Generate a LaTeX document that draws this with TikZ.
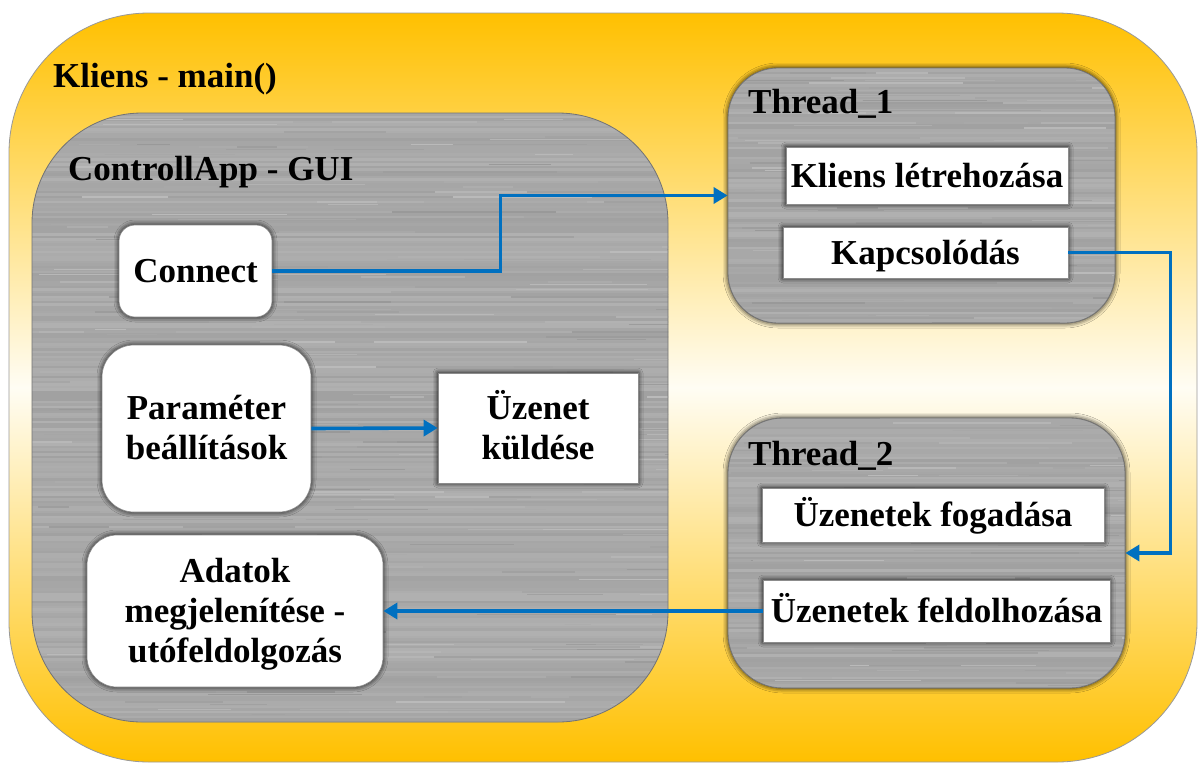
\documentclass[tikz,border=0pt]{standalone}
\usepackage{fontspec}
\setmainfont{Liberation Serif}
\usetikzlibrary{arrows.meta,shadows.blur}

\definecolor{amber}{RGB}{255,192,0}
\definecolor{cream}{RGB}{255,253,244}
\definecolor{steel}{RGB}{168,168,168}
\definecolor{flowblue}{RGB}{0,112,192}

% brushed-steel fill: full-width streaks plus short random scratches
% #1 = number of rows, #2 = width in pt, #3 = random seed
\newcommand\brushedmetal[3]{%
  \pgfmathsetseed{#3}%
  \fill[steel] (path picture bounding box.south west) rectangle (path picture bounding box.north east);
  \foreach \k in {0,...,#1}{%
    \pgfmathsetmacro\lvl{int(31+7*rnd)}%
    \draw[line width=2.6pt,black!\lvl]
      ([yshift=\k*2.5pt]path picture bounding box.south west) -- ++(#2pt,0pt);
  }%
  \foreach \k in {1,...,#1}{%
    \pgfmathsetmacro\lvl{int(27+14*rnd)}%
    \pgfmathsetmacro\sy{2.5*random(0,#1)}%
    \pgfmathsetmacro\sx{#2*rnd}%
    \pgfmathsetmacro\sl{30+160*rnd}%
    \draw[line width=1.2pt,black!\lvl]
      ([shift={(\sx pt,\sy pt)}]path picture bounding box.south west) -- ++(\sl pt,0pt);
  }%
}

\tikzset{
  every node/.style={font=\bfseries\fontsize{35}{40}\selectfont, text=black, inner sep=0pt},
  frame/.style={draw=black!40, line width=0.8pt, rounded corners=140pt,
    top color=amber, bottom color=amber, middle color=cream},
  metalbox/.style={draw=black!55, line width=0.8pt},
  glow/.style={blur shadow={shadow xshift=0pt, shadow yshift=0pt,
    shadow blur radius=5pt, shadow opacity=100}},
  whitebox/.style={fill=white, draw=black!45, line width=0.7pt, glow,
    text height=23pt, text depth=0pt, align=center},
  heading/.style={anchor=base west},
  flow/.style={draw=flowblue, line width=3.6pt,
    -{Triangle[length=14pt,width=16pt]}},
}

\begin{document}
\begin{tikzpicture}[x=1pt,y=-1pt]
\useasboundingbox (0,0) rectangle (1202,763);

% outer container
\node[frame, minimum width=1188pt, minimum height=749pt] (kliens) at (603,387.5) {};
\node[heading] (kliensTitle) at (53,87) {Kliens - main()};

% GUI block
\node[metalbox, rounded corners=110pt, minimum width=636pt, minimum height=609pt,
  path picture={\brushedmetal{245}{640}{11}}] (gui) at (350,417.5) {};
\node[heading] (guiTitle) at (68,180) {ControllApp - GUI};

% thread blocks
\node[metalbox, glow, rounded corners=50pt, minimum width=387pt, minimum height=255pt,
  path picture={\brushedmetal{103}{390}{23}}] (thread1) at (921.5,195.5) {};
\node[heading] (t1Title) at (748,113) {Thread\_1};

\node[metalbox, glow, rounded corners=55pt, minimum width=397pt, minimum height=270pt,
  path picture={\brushedmetal{109}{400}{37}}] (thread2) at (926.5,553) {};
\node[heading] (t2Title) at (748,465) {Thread\_2};

% GUI elements (multi-line boxes sit on their last baseline)
\node[whitebox, rounded corners=16pt, minimum width=153pt, minimum height=92pt]
  (connect) at (195.5,271) {Connect};
\node[whitebox, rounded corners=32pt, minimum width=209pt, minimum height=167pt, text height=62pt]
  (param) at (206.5,428.5) {Paraméter\\beállítások};
\node[whitebox, minimum width=200pt, minimum height=110pt, text height=62pt]
  (uzenet) at (538,428) {Üzenet\\küldése};
\node[whitebox, rounded corners=30pt, minimum width=296pt, minimum height=152pt, text height=103pt]
  (adatok) at (235,611) {Adatok\\megjelenítése -\\utófeldolgozás};

% thread elements
\node[whitebox, minimum width=282pt, minimum height=57pt] (letre) at (927,175.5) {Kliens létrehozása};
\node[whitebox, minimum width=285pt, minimum height=51pt] (kapcs) at (925.5,252.5) {Kapcsolódás};
\node[whitebox, minimum width=342pt, minimum height=54pt] (fogad) at (933,515) {Üzenetek fogadása};
\node[whitebox, minimum width=347pt, minimum height=62pt] (feldolg) at (936.5,611) {Üzenetek feldolhozása};

% message flow
\draw[flow] (connect.east) -- ++(228,0) |- (thread1.west);
\draw[flow] (param.east) -- (uzenet.west);
\draw[flow] (kapcs.east) -- ++(102,0) |- (thread2.east);
\draw[flow] (feldolg.west) -- (adatok.east);
\end{tikzpicture}
\end{document}
